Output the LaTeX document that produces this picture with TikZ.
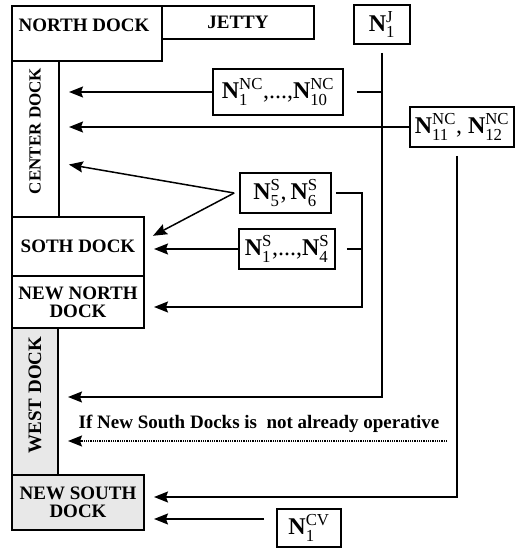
\documentclass[tikz,border=0pt]{standalone}
\usepackage{fontspec}
\setmainfont{Liberation Serif}
\usepackage{amsmath}
\usepackage{tikz}
\usetikzlibrary{arrows.meta, positioning, calc}
\definecolor{dockgray}{gray}{0.91}
\newcommand{\Nq}[2]{\textbf{N}$_{\textnormal{#1}}^{\textnormal{#2}}$}
\tikzset{
  dock/.style  = {rectangle, draw=black, line width=2pt, inner sep=1pt, align=center,
                  font=\fontsize{19}{18}\selectfont\bfseries},
  gdock/.style = {dock, fill=dockgray},
  txt/.style   = {inner sep=0pt, font=\fontsize{19}{18}\selectfont\bfseries},
  nbox/.style  = {rectangle, draw=black, line width=1.7pt, inner sep=1pt,
                  font=\fontsize{24}{26}\selectfont},
  fl/.style    = {-{Stealth[length=14pt,width=11pt,inset=2pt]}, line width=1.5pt, shorten >=9pt},
  ln/.style    = {line width=1.5pt},
  dl/.style    = {fl, line width=1.7pt, dash pattern=on 1pt off 0.8pt},
}

\begin{document}
\begin{tikzpicture}[x=1pt, y=-1pt]
  \useasboundingbox (0,0) rectangle (515,548);
  \node[dock, minimum width=150pt, minimum height=55pt] (north) at (87,33.5) {};
  \node[txt] (northtxt) at (84,25) {NORTH DOCK};
  \node[dock, minimum width=152pt, minimum height=33pt] (jetty) at (238,22.5) {JETTY};
  \node[dock, minimum width=47pt, minimum height=156pt] (cdock) at (35.5,139) {};
  \node[txt, rotate=90, font=\fontsize{17}{18}\selectfont\bfseries] (cdocktxt) at (35,131) {CENTER DOCK};
  \node[dock, minimum width=132pt, minimum height=59pt] (sdock) at (78,246.5) {SOTH DOCK};
  \node[dock, minimum width=132pt, minimum height=52pt] (nndock) at (78,302) {NEW NORTH\\DOCK};
  \node[gdock, minimum width=46pt, minimum height=147pt] (wdock) at (35,401.5) {};
  \node[txt, rotate=90] (wdocktxt) at (35,395) {WEST DOCK};
  \node[gdock, minimum width=132pt, minimum height=55pt] (nsdock) at (78,502.5) {NEW SOUTH\\DOCK};

  \node[nbox, minimum width=56pt, minimum height=39pt] (nj) at (382,24.5) {\Nq{1}{J}};
  \node[nbox, minimum width=130pt, minimum height=46pt] (nnc) at (278,92) {\Nq{1}{NC},...,\Nq{10}{NC}};
  \node[nbox, minimum width=104pt, minimum height=40pt] (nnc2) at (462,127) {\Nq{11}{NC}, \Nq{12}{NC}};
  \node[nbox, minimum width=91pt, minimum height=40pt] (ns56) at (285.5,193) {\Nq{5}{S},\,\Nq{6}{S}};
  \node[nbox, minimum width=96pt, minimum height=40pt] (ns14) at (287,249) {\Nq{1}{S},...,\Nq{4}{S}};
  \node[nbox, minimum width=64pt, minimum height=38pt] (ncv) at (309,528) {\Nq{1}{CV}};
  \node[txt] (cond) at (259,424) {If New South Docks is~ not already operative};

  \coordinate (sbus) at (362,307);
  \coordinate (condend) at (447,441);

  \draw[fl] (nnc.west) -- (nnc.west -| cdock.east);
  \draw[fl] (nnc2.west) -- (nnc2.west -| cdock.east);
  \draw[fl] ([xshift=-5pt]ns56.west) -- (cdock.east |- 0,163);
  \draw[fl] ([xshift=-5pt]ns56.west) -- (sdock.east |- 0,240);
  \draw[fl] (ns14.west) -- (ns14.west -| sdock.east);
  \draw[fl] ([xshift=4pt]ns56.east) -| (sbus) -- (sbus -| nndock.east);
  \draw[ln] ([xshift=11pt]ns14.east) -- (ns14.east -| sbus);
  \draw[fl] ([yshift=-8pt]nj.south) |- (wdock.east |- 0,397);
  \draw[ln] ([xshift=13pt]nnc.east) -- (nnc.east -| nj.south);
  \draw[fl] ([xshift=-5pt,yshift=-8pt]nnc2.south) |- (nsdock.east |- 0,497);
  \draw[dl] (condend) -- (condend -| wdock.east);
  \draw[fl] ([xshift=-12pt,yshift=9pt]ncv.west) -- (nsdock.east |- 0,519);
\end{tikzpicture}
\end{document}
